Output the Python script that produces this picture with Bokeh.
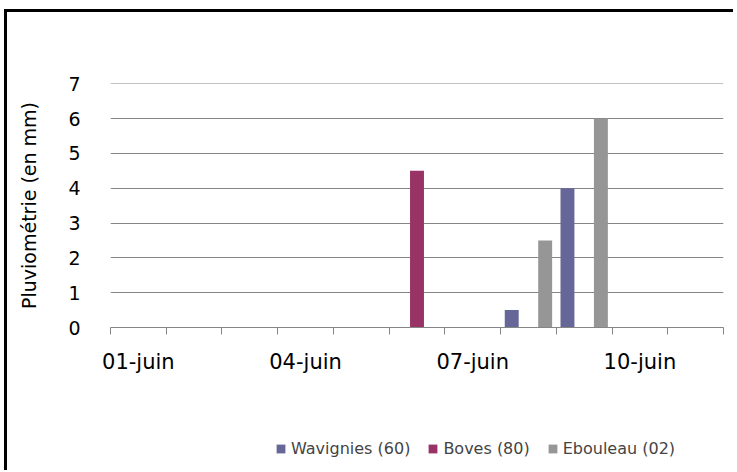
from bokeh.plotting import figure
from bokeh.layouts import column
from bokeh.models import FixedTicker, Range1d, Legend, LegendItem, ColumnDataSource
from bokeh.embed import file_html
from bokeh.resources import INLINE

days = ["01-juin", "02-juin", "03-juin", "04-juin", "05-juin", "06-juin",
        "07-juin", "08-juin", "09-juin", "10-juin", "11-juin"]
wavignies = [0, 0, 0, 0, 0, 0, 0, 0.5, 4, 0, 0]
boves = [0, 0, 0, 0, 0, 4.5, 0, 0, 0, 0, 0]
ebouleau = [0, 0, 0, 0, 0, 0, 0, 2.5, 6, 0, 0]
series_names = ["Wavignies (60)", "Boves (80)", "Ebouleau (02)"]
y_ticks = [0, 1, 2, 3, 4, 5, 6, 7]
labelled_days = ["01-juin", "04-juin", "07-juin", "10-juin"]

colors = ["#666699", "#993366", "#969696"]
offsets = [-0.3, 0.0, 0.3]
FONT = "DejaVu Sans"
GRID = "#868686"

xs = [i + 1 for i in range(len(days))]

p = figure(frame_width=613, frame_height=244,
           min_border_left=103, min_border_right=10,
           min_border_top=71, min_border_bottom=50,
           x_range=Range1d(0.5, len(days) + 0.5), y_range=Range1d(0, 7.01),
           output_backend="svg", toolbar_location=None)
p.outline_line_color = None
p.background_fill_color = "white"

# legend strip below the chart (its own frame so the legend is not clipped)
p2 = figure(width=726, height=93, min_border=0,
            x_range=p.x_range, y_range=Range1d(100, 101),
            x_axis_location=None, y_axis_location=None,
            output_backend="svg", toolbar_location=None)
p2.outline_line_color = None
p2.xgrid.grid_line_color = None
p2.ygrid.grid_line_color = None

items = []
for name, vals, col, off in zip(series_names, [wavignies, boves, ebouleau], colors, offsets):
    src = ColumnDataSource(dict(x=[x + off for x in xs], top=vals))
    p.vbar(x="x", top="top", width=0.25, source=src,
           fill_color=col, line_color=None)
    r2 = p2.vbar(x="x", top="top", width=0.25, source=src,
                 fill_color=col, line_color=None)
    items.append(LegendItem(label=name, renderers=[r2]))

# y axis
p.yaxis.ticker = FixedTicker(ticks=y_ticks)
p.yaxis.axis_line_color = None
p.yaxis.major_tick_line_color = None
p.yaxis.minor_tick_line_color = None
p.yaxis.major_label_standoff = 24
p.yaxis.major_label_text_font = FONT
p.yaxis.major_label_text_font_size = "19px"
p.yaxis.major_label_text_color = "black"
p.yaxis.axis_label = "Pluviométrie (en mm)"
p.yaxis.axis_label_text_font = FONT
p.yaxis.axis_label_text_font_size = "19px"
p.yaxis.axis_label_text_font_style = "normal"
p.yaxis.axis_label_text_color = "black"
p.yaxis.axis_label_standoff = 25

# x axis
label_ticks = [xs[days.index(d)] for d in labelled_days]
p.xaxis.ticker = FixedTicker(ticks=label_ticks,
                             minor_ticks=[x - 0.5 for x in xs] + [xs[-1] + 0.5])
p.xaxis.major_label_overrides = {t: d for t, d in zip(label_ticks, labelled_days)}
p.xaxis.axis_line_color = GRID
p.xaxis.major_tick_line_color = None
p.xaxis.major_tick_out = 0
p.xaxis.major_tick_in = 0
p.xaxis.minor_tick_line_color = GRID
p.xaxis.minor_tick_out = 7
p.xaxis.minor_tick_in = 0
p.xaxis.major_label_standoff = 15
p.xaxis.major_label_text_font = FONT
p.xaxis.major_label_text_font_size = "21px"
p.xaxis.major_label_text_color = "black"

p.xgrid.grid_line_color = None
p.ygrid.grid_line_color = GRID
p.ygrid.grid_line_width = 1

legend = Legend(items=items, location=(165, 12), orientation="horizontal",
                background_fill_alpha=0, border_line_color=None,
                label_text_font=FONT, label_text_font_size="16px",
                glyph_width=11, glyph_height=11, label_standoff=5,
                spacing=17, padding=0, margin=0)
p2.add_layout(legend, "center")

layout = column(p, p2, spacing=0,
                styles={"border-left": "3px solid black",
                        "border-top": "3px solid black",
                        "margin-left": "4px", "margin-top": "9px"})

open("out.html", "w").write(file_html(layout, INLINE))
